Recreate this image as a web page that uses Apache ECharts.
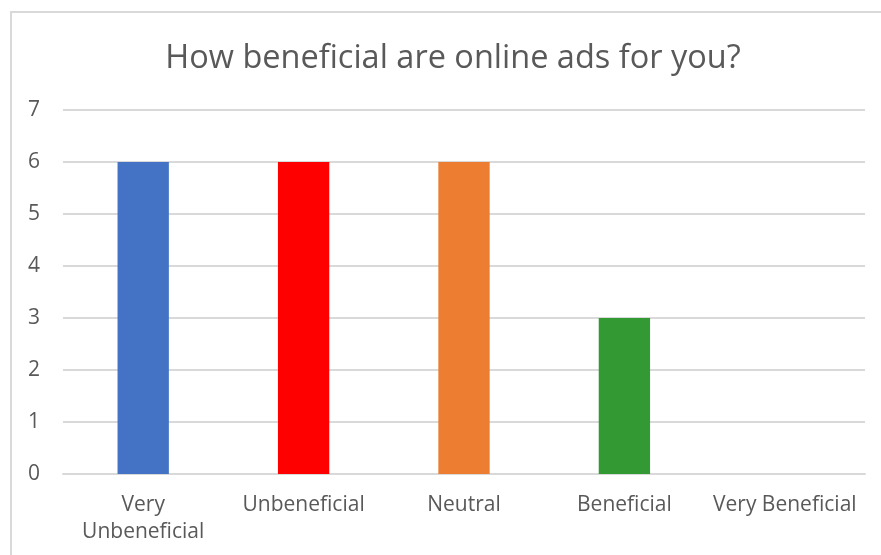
<!DOCTYPE html>
<html>
<head>
<meta charset="utf-8">
<script src="https://cdn.jsdelivr.net/npm/echarts@6/dist/echarts.min.js"></script>
<style>
  html, body { margin: 0; padding: 0; background: #ffffff; }
  #chart { width: 881px; height: 555px; }
</style>
</head>
<body>
<div id="chart"></div>
<script>
// Survey answers and how many respondents picked each one
const categories = ['Very\nUnbeneficial', 'Unbeneficial', 'Neutral', 'Beneficial', 'Very Beneficial'];
const counts = [6, 6, 6, 3, 0];
const barColors = ['#4472C4', '#FF0000', '#ED7D31', '#339933', '#70AD47'];
const yTicks = [0, 1, 2, 3, 4, 5, 6, 7];

const FONT = '"Open Sans", "Noto Sans", sans-serif';
const TEXT = '#595959';
const GRID = '#D9D9D9';

const chart = echarts.init(document.getElementById('chart'), null, { renderer: 'canvas' });

chart.setOption({
  backgroundColor: '#ffffff',
  animation: false,
  title: {
    text: 'How beneficial are online ads for you?',
    left: 448,
    textAlign: 'center',
    top: 37,
    textStyle: { fontFamily: FONT, fontSize: 32.5, fontWeight: 'normal', color: TEXT }
  },
  graphic: [{
    type: 'rect',
    silent: true,
    shape: { x: 11, y: 12, width: 900, height: 600 },
    style: { fill: 'none', stroke: GRID, lineWidth: 2 }
  }],
  grid: { left: 63, right: 16, top: 110, bottom: 81, containLabel: false },
  xAxis: {
    type: 'category',
    data: categories,
    axisLine: { show: true, lineStyle: { color: GRID, width: 2 } },
    axisTick: { show: false },
    axisLabel: {
      color: TEXT, fontFamily: FONT, fontSize: 21, lineHeight: 27,
      margin: 18, interval: 0
    }
  },
  yAxis: {
    type: 'value',
    min: yTicks[0],
    max: yTicks[yTicks.length - 1],
    interval: 1,
    axisLine: { show: false },
    axisTick: { show: false },
    splitLine: { lineStyle: { color: GRID, width: 2 } },
    axisLabel: { color: TEXT, fontFamily: FONT, fontSize: 21, margin: 23 }
  },
  series: [{
    type: 'bar',
    barWidth: '32%',
    data: counts.map((v, i) => ({ value: v, itemStyle: { color: barColors[i] } }))
  }]
});
</script>
</body>
</html>
